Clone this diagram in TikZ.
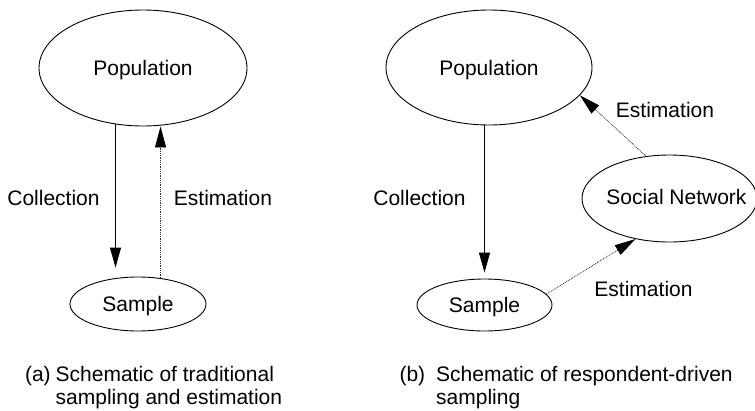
\documentclass[tikz,border=0pt]{standalone}
\usepackage{fontspec}
\setmainfont{Liberation Sans}
\usetikzlibrary{arrows.meta,shapes}

\begin{document}
\begin{tikzpicture}[x=1pt,y=-1pt,
    every node/.style={font=\fontsize{21}{23}\selectfont},
    blob/.style={ellipse,draw,line width=0.9pt,inner sep=0pt,text height=15pt,text depth=0pt},
    collect/.style={-{Triangle[length=20pt,width=11pt]},line width=0.9pt},
    estim/.style={-{Triangle[length=21pt,width=11pt,color=black]},line width=0.8pt,black!80,
                  dash pattern=on 0.9pt off 0.9pt}
  ]
\useasboundingbox (0,0) rectangle (755,410);

% (a) traditional
\node[blob,minimum width=208pt,minimum height=116pt] (popA) at (143,68) {Population};
\node[blob,minimum width=136pt,minimum height=54pt] (sampA) at (138,304) {Sample};
\draw[collect] (popA.244) -- (popA.244 |- sampA.north) [shorten >=9pt];
\draw[estim] (sampA.49) -- (sampA.49 |- popA.south);
\node[anchor=base] (collA) at (53.5,205) {Collection};
\node[anchor=base] (estA) at (223,205) {Estimation};
\node[anchor=base west] (capA) at (21.5,381.7)
  {\begin{tabular}[t]{@{}l@{\hspace{5pt}}l@{}}(a) & Schematic of traditional\\ & sampling and estimation\end{tabular}};

% (b) respondent-driven
\node[blob,minimum width=206pt,minimum height=115pt] (popB) at (489,67.5) {Population};
\node[blob,minimum width=135pt,minimum height=52pt] (sampB) at (484.5,305) {Sample};
\node[blob,minimum width=175pt,minimum height=87pt,
      label={[xshift=7pt,yshift=1.5pt,font=\fontsize{21}{23}\selectfont]center:Social Network}] (snet) at (669.5,198.5) {};
\draw[collect] (sampB.north |- popB.south) -- (sampB.north) [shorten >=6pt];
\draw[estim] (snet.119) -- (popB.-17);
\draw[estim] (sampB.10) -- (snet.230);
\node[anchor=base] (collB) at (419.5,205) {Collection};
\node[anchor=base] (estB1) at (665,117.5) {Estimation};
\node[anchor=base] (estB2) at (643.5,296.5) {Estimation};
\node[anchor=base west] (capB) at (396,381.7)
  {\begin{tabular}[t]{@{}l@{\hspace{11pt}}l@{}}(b) & Schematic of respondent-driven\\ & sampling\end{tabular}};
\end{tikzpicture}
\end{document}
